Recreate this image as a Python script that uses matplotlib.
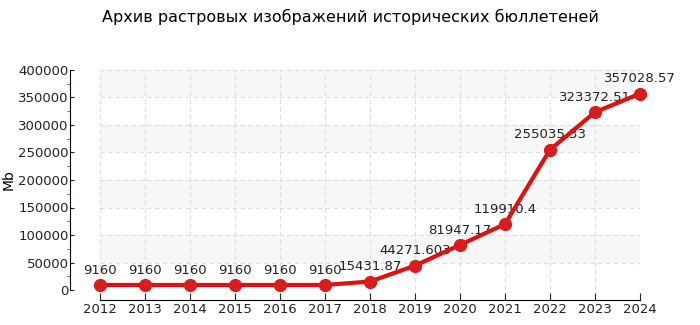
import matplotlib
matplotlib.use('Agg')
import matplotlib.pyplot as plt
from matplotlib.ticker import MultipleLocator

# Data
years = [2012, 2013, 2014, 2015, 2016, 2017, 2018, 2019, 2020, 2021, 2022, 2023, 2024]
sizes = [9160, 9160, 9160, 9160, 9160, 9160, 15431.87, 44271.603, 81947.17,
         119910.4, 255035.33, 323372.51, 357028.57]
labels = ['9160', '9160', '9160', '9160', '9160', '9160', '15431.87', '44271.603',
          '81947.17', '119910.4', '255035.33', '323372.51', '357028.57']

title = 'Архив растровых изображений исторических бюллетеней'

plt.rcParams['font.family'] = ['DejaVu Sans']

fig = plt.figure(figsize=(7, 3.25), dpi=100)
ax = fig.add_axes([100 / 700, 35 / 325, 540 / 700, 220 / 325])

ax.set_xlim(2012, 2024)
ax.set_ylim(0, 400000)

# alternating bands
for lo in range(50000, 400000, 100000):
    ax.axhspan(lo, lo + 50000, color='#f7f7f7', zorder=0, lw=0)

ax.grid(True, color='#dddddd', linestyle=(0, (4, 3)), linewidth=0.8, zorder=1)
ax.set_axisbelow(True)

ax.plot(years, sizes, color='#e30e0e', linewidth=3, marker='o',
        markersize=8.5, markerfacecolor='#d91c1c', markeredgecolor='#d91c1c',
        zorder=3, clip_on=False)

for x, y, t in zip(years, sizes, labels):
    ax.annotate(t, (x, y), xytext=(0, 6), textcoords='offset points',
                ha='center', va='bottom', fontsize=9.5, color='#222222', zorder=2)

ax.set_xticks(years)
ax.set_xticklabels([str(y) for y in years])
ax.yaxis.set_major_locator(MultipleLocator(50000))
ax.yaxis.set_minor_locator(MultipleLocator(25000))
ax.tick_params(axis='both', labelsize=9.5, colors='#222222')
ax.tick_params(axis='y', which='major', direction='in', length=3, pad=1)
ax.tick_params(axis='y', which='minor', direction='out', length=2, color='red')
ax.tick_params(axis='x', direction='in', length=5, pad=2)

for s in ['top', 'right']:
    ax.spines[s].set_visible(False)
ax.spines['left'].set_position(('outward', 21.6))
ax.spines['bottom'].set_position(('outward', 7.2))

ax.set_ylabel('Mb', fontsize=10, labelpad=2)

fig.text(350 / 700, 1 - 17 / 325, title, ha='center', va='center', fontsize=11.5)

fig.savefig('out.png', dpi=100)
